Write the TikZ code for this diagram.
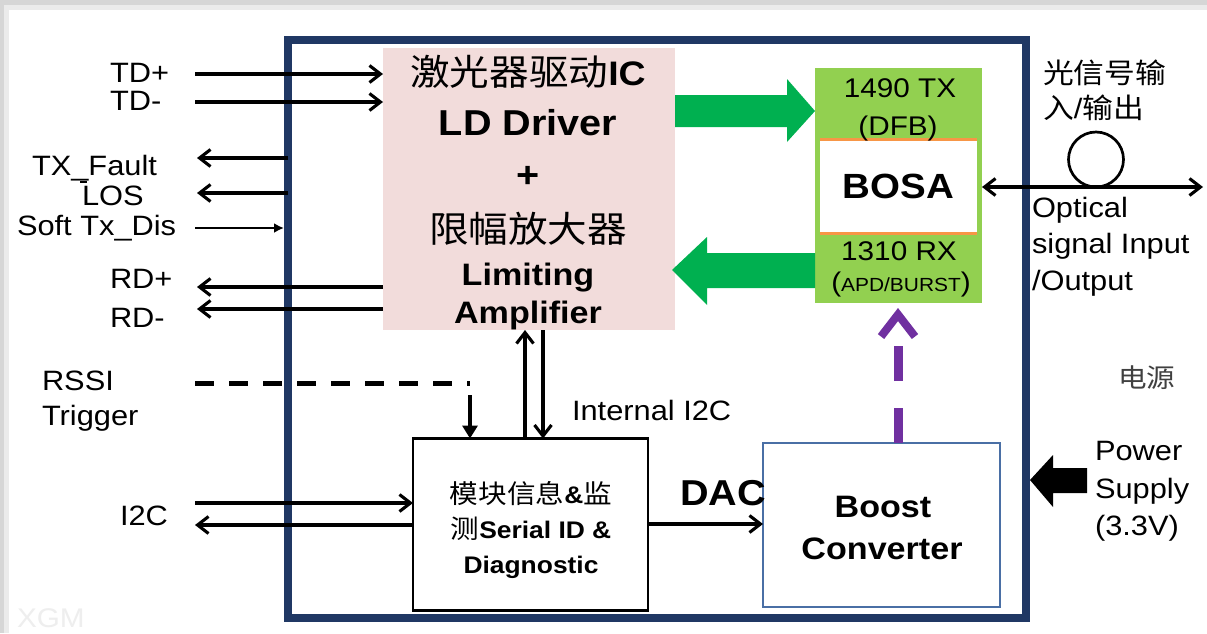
\documentclass[tikz,border=0pt]{standalone}
\usepackage{fontspec}
\setmainfont{Liberation Sans}[FakeStretch=1.1]
\newfontfamily\cjk{Noto Sans CJK SC}[FakeStretch=1.1]
\usetikzlibrary{arrows.meta}
\newcommand\fsz[1]{\fontsize{#1}{#1}\selectfont}
\newcommand\zh[1]{{\cjk\mdseries #1}}
\definecolor{navyc}{HTML}{203864}
\definecolor{pinkc}{HTML}{F2DCDB}
\definecolor{bosag}{HTML}{92D050}
\definecolor{arrg}{HTML}{00B050}
\definecolor{orangec}{HTML}{F79646}
\definecolor{purpc}{HTML}{7030A0}
\definecolor{boostc}{HTML}{4A6FA5}
\definecolor{shadowc}{HTML}{D6D6D6}
\definecolor{wmc}{HTML}{EEEEEE}
\begin{document}
\begin{tikzpicture}[x=1pt,y=-1pt,
  lbl/.style={inner sep=0pt, outer sep=0pt, anchor=base west, font=\fsz{28}},
  ctr/.style={inner sep=0pt, outer sep=0pt, anchor=base},
  box/.style={inner sep=0pt, outer sep=0pt},
  conn/.style={line width=3.1pt, -{Straight Barb[length=11pt,width=17pt]}},
  dconn/.style={line width=3.1pt, {Straight Barb[length=11pt,width=17pt]}-{Straight Barb[length=11pt,width=17pt]}},
  dashline/.style={line width=5pt, dash pattern=on 19pt off 15pt},
  purp/.style={purpc, line width=9pt, dash pattern=on 35pt off 27pt, -{Straight Barb[length=22pt,width=34pt,line width=8pt]}}
]
\useasboundingbox (0,0) rectangle (1207,633);
% page background with shadow edge
\fill[shadowc] (0,0) rectangle (1207,633);
\fill[white!92!black] (4,5) rectangle (1207,633);
\fill[white] (9,10) rectangle (1207,633);
\node[lbl, font=\fsz{27}, text=wmc] (wm) at (17,627) {XGM};

% module frame
\node[box, draw=navyc, line width=8pt, minimum width=738pt, minimum height=578pt] (module) at (657,329) {};

% LD driver / limiting amp
\node[box, fill=pinkc, minimum width=292pt, minimum height=282pt] (pink) at (529,189) {};
\node[ctr] (p1) at (528,85) {{\fsz{36}\zh{激光器驱动}}{\fsz{34}\bfseries IC}};
\node[ctr, font=\fsz{36}\bfseries] (p2) at (528,135) {LD Driver};
\node[inner sep=0pt, font=\fsz{36}\bfseries] (p3) at (528,177) {+};
\node[ctr, font=\fsz{36}] (p4) at (528,242) {\zh{限幅放大器}};
\node[ctr, font=\fsz{31}\bfseries] (p5) at (528,285) {Limiting};
\node[ctr, font=\fsz{31}\bfseries] (p6) at (528,323) {Amplifier};

% BOSA
\node[box, fill=bosag, minimum width=167pt, minimum height=235pt] (bosa) at (898.5,185.5) {};
\node[box, fill=white, minimum width=157pt, minimum height=94pt] (bosaw) at (898.5,186) {};
\draw[orangec, line width=3pt] (bosaw.north west) -- (bosaw.north east);
\draw[orangec, line width=3pt] (bosaw.south west) -- (bosaw.south east);
\node[ctr, font=\fsz{27}] (b1) at (900,97) {1490 TX};
\node[ctr, font=\fsz{27}] (b2) at (898,135) {(DFB)};
\node[ctr, font=\fsz{35}\bfseries] (b3) at (898.5,198) {BOSA};
\node[ctr, font=\fsz{27}] (b4) at (899,260) {1310 RX};
\node[ctr] (b5) at (901,291) {{\fsz{27}(}{\fsz{19}APD/BURST}{\fsz{27})}};

% monitor block
\node[box, draw=black, line width=2.4pt, minimum width=235pt, minimum height=172pt] (mon) at (530.5,524.5) {};
\node[ctr, font=\fsz{24}\bfseries] (m1) at (531,503) {{\fsz{26}\zh{模块信息}}\&{\fsz{26}\zh{监}}};
\node[ctr, font=\fsz{24}\bfseries] (m2) at (531,538) {{\fsz{26}\zh{测}}Serial ID \&};
\node[ctr, font=\fsz{24}\bfseries] (m3) at (531,573) {Diagnostic};

% boost converter
\node[box, draw=boostc, line width=2pt, minimum width=237pt, minimum height=164pt] (boost) at (881.5,525) {};
\node[ctr, font=\fsz{31}\bfseries] (c1) at (883,517) {Boost};
\node[ctr, font=\fsz{31}\bfseries] (c2) at (882,559) {Converter};

% left labels
\node[lbl] (tdp) at (110,82) {TD+};
\node[lbl] (tdm) at (110,110) {TD-};
\node[lbl] (txf) at (32,175) {TX\_Fault};
\node[lbl] (los) at (80,205) {\rlap{\rule[22pt]{7pt}{2pt}}\hspace{2pt}LOS};
\node[lbl] (std) at (17,235) {Soft Tx\_Dis};
\node[lbl] (rdp) at (110,288) {RD+};
\node[lbl] (rdm) at (110,327) {RD-};
\node[lbl] (rssi) at (42,390) {RSSI};
\node[lbl] (trig) at (42,425) {Trigger};
\node[lbl] (i2c) at (120,525) {I2C};

% other labels
\node[lbl] (ii2c) at (572,420) {Internal I2C};
\node[lbl, font=\fsz{36}\bfseries] (dac) at (680,505) {DAC};
\node[lbl] (g1) at (1043,83) {\zh{光信号输}};
\node[lbl] (g2) at (1043,118) {\zh{入}/\zh{输出}};
\node[lbl] (o1) at (1032,217) {Optical};
\node[lbl] (o2) at (1032,253) {signal Input};
\node[lbl] (o3) at (1032,290) {/Output};
\node[lbl, font=\fsz{26}, text=black!75] (dy) at (1118,387) {\zh{电源}};
\node[lbl] (pw1) at (1095,460) {Power};
\node[lbl] (pw2) at (1095,498) {Supply};
\node[lbl] (pw3) at (1095,535) {(3.3V)};

% connector end points
\coordinate (tdpS) at (195,74);
\coordinate (tdmS) at (195,102);
\coordinate (txfE) at (197,158);
\coordinate (losE) at (197,193);
\coordinate (stdS) at (195,228);
\coordinate (stdE) at (284,228);
\coordinate (rdpE) at (197,287);
\coordinate (rdmE) at (197,309);
\coordinate (rssiS) at (195,383);
\coordinate (rssiE) at (470,383);
\coordinate (rssiD) at (470,395);
\coordinate (i2cS) at (195,503);
\coordinate (i2cE) at (195,525);
\coordinate (fibE) at (1203,187);

% connectors
\draw[conn] (tdpS) -- (tdpS -| pink.west);
\draw[conn] (tdmS) -- (tdmS -| pink.west);
\draw[conn] (txfE -| module.west) -- (txfE);
\draw[conn] (losE -| module.west) -- (losE);
\draw[line width=2.4pt, -{Latex[length=10pt,width=10pt]}] (stdS) -- (stdE);
\draw[conn] (rdpE -| pink.west) -- (rdpE);
\draw[conn] (rdmE -| pink.west) -- (rdmE);
\draw[dashline] (rssiS) -- (rssiE);
\draw[line width=4.5pt, -{Triangle[length=13pt,width=15pt]}] (rssiD) -- (rssiD |- mon.north);
\draw[conn] (525,0 |- mon.north) -- (525,0 |- pink.south);
\draw[conn] (543,0 |- pink.south) -- (543,0 |- mon.north);
\draw[conn] (i2cS) -- (i2cS -| mon.west);
\draw[conn] (i2cE -| mon.west) -- (i2cE);
\draw[conn] (mon.east |- 0,524) -- (boost.west |- 0,524);
\draw[purp] (898,0 |- boost.north) -- ([yshift=-5pt]898,0 |- bosa.south);

% green block arrows
\fill[arrg] (pink.east |- 0,95) -- (787,95) -- (787,79) -- (bosa.west |- 0,111)
  -- (787,142) -- (787,127) -- (pink.east |- 0,127) -- cycle;
\fill[arrg] (bosa.west |- 0,253) -- (707,253) -- (707,237) -- (672,270)
  -- (707,305) -- (707,288) -- (bosa.west |- 0,288) -- cycle;

% fiber
\node[box, draw=black, line width=2.7pt, circle, minimum size=55pt] (fiber) at (1096,159.5) {};
\draw[dconn] (bosa.east |- 0,187) -- (fibE);

% power input arrow
\fill[black] (module.east |- 0,480) ++(4,0) -- (1053,455) -- (1053,468) -- (1087,468)
  -- (1087,493) -- (1053,493) -- (1053,507) -- cycle;
\end{tikzpicture}
\end{document}
